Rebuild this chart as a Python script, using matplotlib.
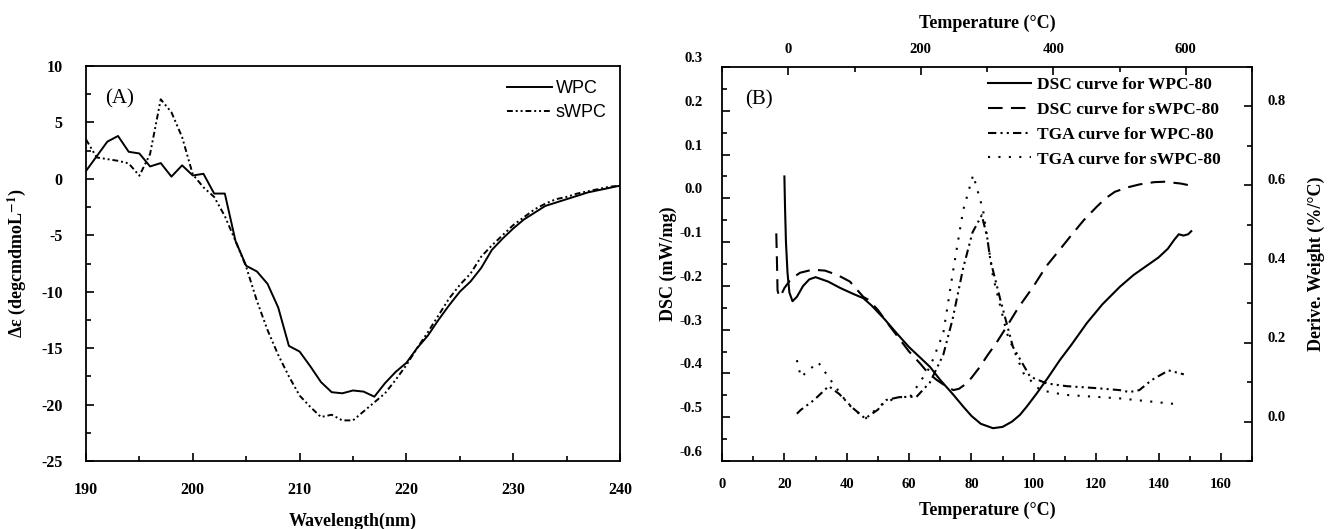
import matplotlib
matplotlib.use("Agg")
import matplotlib.pyplot as plt
from matplotlib.ticker import MultipleLocator, FormatStrFormatter
from matplotlib.transforms import ScaledTranslation

plt.rcParams["font.family"] = ["Liberation Serif", "DejaVu Serif"]
plt.rcParams["font.weight"] = "bold"
plt.rcParams["axes.labelweight"] = "bold"
plt.rcParams["mathtext.fontset"] = "stix"
plt.rcParams["axes.unicode_minus"] = False

# ---- (A) CD spectra ----
wavelength = list(range(190, 241))
wpc = [0.7, 2.0, 3.3, 3.8, 2.4, 2.25, 1.1, 1.4, 0.2, 1.2,
       0.3, 0.45, -1.3, -1.3, -5.5, -7.7, -8.2, -9.3, -11.4, -14.8,
       -15.3, -16.6, -18.0, -18.9, -19.0, -18.75, -18.85, -19.3, -18.1, -17.1,
       -16.3, -15.0, -13.9, -12.5, -11.2, -10.0, -9.1, -7.9, -6.3, -5.3,
       -4.4, -3.6, -3.0, -2.4, -2.1, -1.8, -1.5, -1.2, -1.0, -0.8, -0.6]
swpc = [3.5, 1.9, 1.75, 1.6, 1.37, 0.28, 2.2, 7.05, 5.9, 3.7,
        0.4, -0.75, -1.6, -3.3, -5.5, -7.8, -10.8, -13.4, -15.6, -17.5,
        -19.2, -20.2, -21.1, -20.9, -21.4, -21.4, -20.6, -19.8, -19.0, -17.8,
        -16.5, -15.0, -13.6, -12.1, -10.6, -9.4, -8.4, -6.9, -5.9, -5.0,
        -4.1, -3.4, -2.7, -2.2, -1.8, -1.6, -1.3, -1.1, -0.9, -0.7, -0.6]

# ---- (B) DSC curves (bottom / left axes) ----
dsc_wpc_t = [20.0, 20.2, 20.5, 21.0, 21.6, 22.6, 24.0, 26.0, 28.0, 30.0, 34, 38, 42, 45.3,
             48, 52, 56, 60, 63, 66.7, 70, 74, 77.4, 80, 83, 86.9, 90, 93, 95.5, 97.7,
             101, 104.5, 108.4, 112, 117, 122, 127.6, 132, 136, 140, 143, 145, 146.5,
             148, 149.5, 150.5]
dsc_wpc = [0.05, -0.02, -0.10, -0.17, -0.215, -0.235, -0.225, -0.20, -0.185, -0.18, -0.19,
           -0.205, -0.218, -0.228, -0.245, -0.275, -0.308, -0.34, -0.36, -0.385, -0.415,
           -0.447, -0.476, -0.497, -0.515, -0.525, -0.522, -0.51, -0.495, -0.476, -0.445,
           -0.41, -0.369, -0.335, -0.285, -0.242, -0.202, -0.175, -0.155, -0.135, -0.115,
           -0.095, -0.082, -0.085, -0.082, -0.075]
dsc_swpc_t = [17.4, 17.6, 17.8, 18.3, 19, 20, 22, 25, 29, 33, 37, 41, 45.3, 47, 50, 53.9,
              57, 60, 63.5, 66, 68.9, 72, 74.2, 76, 78, 80, 82.7, 85, 88, 91.3, 95, 99.8,
              104, 108, 111.6, 116, 120.2, 123, 126, 130, 134, 138.6, 142, 144.3, 147, 149.8]
dsc_swpc = [-0.08, -0.14, -0.21, -0.225, -0.22, -0.205, -0.185, -0.17, -0.163, -0.165,
            -0.175, -0.19, -0.225, -0.232, -0.255, -0.293, -0.322, -0.35, -0.377, -0.398,
            -0.415, -0.43, -0.438, -0.435, -0.425, -0.41, -0.385, -0.36, -0.33, -0.293,
            -0.25, -0.202, -0.155, -0.12, -0.088, -0.05, -0.019, 0.0, 0.015, 0.025, 0.032,
            0.037, 0.038, 0.036, 0.034, 0.030]

# ---- (B) TGA derivative curves (top / right axes) ----
tga_wpc_t = [13, 19, 39, 61, 77, 97, 116, 135, 148, 167, 184, 193, 214, 234, 248, 264,
             278, 292, 300, 305, 320, 339, 365, 390, 420, 465, 500, 515, 530, 548, 574, 597]
tga_wpc = [0.02, 0.03, 0.055, 0.09, 0.07, 0.035, 0.008, 0.03, 0.055, 0.062, 0.063, 0.062,
           0.10, 0.17, 0.26, 0.39, 0.48, 0.524, 0.47, 0.41, 0.31, 0.19, 0.114, 0.097, 0.09,
           0.085, 0.08, 0.075, 0.08, 0.105, 0.13, 0.12]
tga_swpc_t = [13, 19, 45, 64, 90, 116, 142, 165, 184, 214, 234, 249, 264, 279, 294, 309,
              330, 355, 380, 417, 500, 582]
tga_swpc = [0.156, 0.113, 0.151, 0.105, 0.045, 0.007, 0.045, 0.062, 0.063, 0.139, 0.225,
            0.385, 0.537, 0.626, 0.537, 0.368, 0.224, 0.123, 0.08, 0.068, 0.059, 0.045]

fig = plt.figure(figsize=(13.29, 5.29), dpi=100)

# Panel A
axA = fig.add_axes([0.0647, 0.1285, 0.4018, 0.7467])
axA.plot(wavelength, wpc, color="black", lw=1.4, label="WPC")
axA.plot(wavelength, swpc, color="black", lw=1.4, dashes=[3, 1.5, 1, 1.5, 1, 1.5], label="sWPC")
axA.set_xlim(190, 240)
axA.set_ylim(-25, 10)
axA.xaxis.set_major_locator(MultipleLocator(10))
axA.xaxis.set_minor_locator(MultipleLocator(5))
axA.yaxis.set_major_locator(MultipleLocator(5))
axA.yaxis.set_minor_locator(MultipleLocator(2.5))
axA.tick_params(which="both", direction="in", top=False, right=False, width=1.2)
axA.tick_params(which="major", length=6)
axA.tick_params(which="minor", length=3.5)
axA.tick_params(axis="x", pad=15, labelsize=11.5)
axA.tick_params(axis="y", pad=17, labelsize=11.5)
for s in axA.spines.values():
    s.set_linewidth(1.3)
axA.set_xlabel("Wavelength(nm)", fontsize=13, labelpad=11)
axA.set_ylabel(r"Δε (degcmdmoL$^{\mathbf{-1}}$)", fontsize=13, labelpad=9)
axA.text(0.035, 0.905, "(A)", transform=axA.transAxes, fontsize=15, fontweight="normal")
axA.legend(loc="upper right", bbox_to_anchor=(0.975, 0.965), frameon=False,
           prop={"family": "Liberation Sans", "size": 13, "weight": "normal"},
           handlelength=2.5, handletextpad=0.2, labelspacing=0.4, borderpad=0, borderaxespad=0)

# Panel B
posB = [0.5433, 0.1285, 0.3988, 0.7448]
axB = fig.add_axes(posB)
axT = fig.add_axes(posB, frameon=False)

lB1, = axB.plot(dsc_wpc_t, dsc_wpc, color="black", lw=1.5)
lB2, = axB.plot(dsc_swpc_t, dsc_swpc, color="black", lw=1.5, dashes=[7, 4])
lT1, = axT.plot(tga_wpc_t, tga_wpc, color="black", lw=1.5, dashes=[4, 2, 1, 2, 1, 2])
lT2, = axT.plot(tga_swpc_t, tga_swpc, color="black", lw=1.5, dashes=[1, 4])

axB.set_xlim(0, 170)
axB.set_ylim(-0.6, 0.3)
axB.xaxis.set_major_locator(MultipleLocator(20))
axB.xaxis.set_minor_locator(MultipleLocator(10))
axB.yaxis.set_major_locator(MultipleLocator(0.1))
axB.yaxis.set_minor_locator(MultipleLocator(0.05))
axB.yaxis.set_major_formatter(FormatStrFormatter("%.1f"))
axB.tick_params(which="both", direction="in", top=False, right=False, width=1.2, labelsize=10.5)
axB.tick_params(which="major", length=6)
axB.tick_params(which="minor", length=3.5)
axB.tick_params(axis="x", pad=12)
axB.tick_params(axis="y", pad=14)
for s in axB.spines.values():
    s.set_linewidth(1.3)
axB.set_xlabel("Temperature (°C)", fontsize=13, labelpad=8)
axB.set_ylabel("DSC (mW/mg)", fontsize=13, labelpad=2)

axT.set_xlim(-100, 700)
axT.set_ylim(-0.1, 0.9)
axT.xaxis.tick_top()
axT.xaxis.set_label_position("top")
axT.yaxis.tick_right()
axT.yaxis.set_label_position("right")
axT.xaxis.set_major_locator(MultipleLocator(200))
axT.xaxis.set_minor_locator(MultipleLocator(100))
axT.yaxis.set_major_locator(MultipleLocator(0.2))
axT.yaxis.set_minor_locator(MultipleLocator(0.1))
axT.yaxis.set_major_formatter(FormatStrFormatter("%.1f"))
axT.tick_params(which="both", direction="in", width=1.2, labelsize=10.5)
axT.tick_params(which="major", length=6)
axT.tick_params(which="minor", length=3.5)
axT.tick_params(axis="x", pad=8)
axT.tick_params(axis="y", pad=11)
axT.set_xlabel("Temperature (°C)", fontsize=13, labelpad=11)
axT.set_ylabel("Derive. Weight (%/°C)", fontsize=13, labelpad=16)

# the original figure prints its tick labels a little above the tick marks
for lbl in axB.get_yticklabels():
    lbl.set_transform(lbl.get_transform() + ScaledTranslation(0, 0.10, fig.dpi_scale_trans))
for lbl in axT.get_yticklabels():
    lbl.set_transform(lbl.get_transform() + ScaledTranslation(0, 0.06, fig.dpi_scale_trans))

axB.text(0.043, 0.905, "(B)", transform=axB.transAxes, fontsize=15, fontweight="normal")
axT.legend([lB1, lB2, lT1, lT2],
           ["DSC curve for WPC-80", "DSC curve for sWPC-80",
            "TGA curve for WPC-80", "TGA curve for sWPC-80"],
           loc="upper right", bbox_to_anchor=(0.94, 0.975), frameon=False,
           prop={"family": "Liberation Serif", "size": 12.5, "weight": "bold"},
           handlelength=2.5, handletextpad=0.3, labelspacing=0.5, borderpad=0, borderaxespad=0)

fig.savefig("out.png", dpi=100)
